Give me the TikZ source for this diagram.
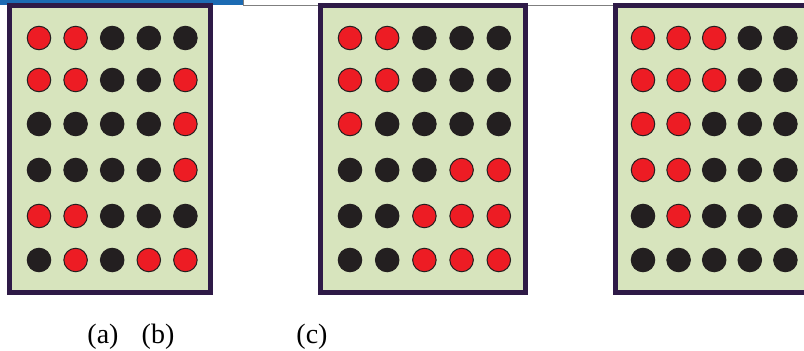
\documentclass[tikz,border=0pt]{standalone}
\usepackage{fontspec}
\setmainfont{Liberation Serif}
\definecolor{mPanel}{HTML}{D7E4BD}
\definecolor{mFrame}{HTML}{2E1A47}
\definecolor{mRed}{HTML}{ED1C24}
\definecolor{mDot}{HTML}{231F20}
\definecolor{mBar}{HTML}{1C6BB3}
\definecolor{mRule}{HTML}{7F7F7F}
\usetikzlibrary{positioning}

\begin{document}
\begin{tikzpicture}[x=1pt, y=-1pt, font=\fontsize{28}{32}\selectfont,
  panel/.style={draw=mFrame, fill=mPanel, line width=4.6pt},
  dot/.style={circle, inner sep=0pt, minimum size=23.5pt, draw=mDot, line width=1pt},
  tag/.style={inner sep=0pt}]
\useasboundingbox (0,0) rectangle (804,351);
\clip (0,0) rectangle (804,351);
% header strip behind the panels
\draw[mRule, line width=1pt] (243,-2) -- (243,5.5) -- (810,5.5);
\fill[mBar] (0,0) rectangle (242.5,5);
% panels
\draw[panel] (9.3,5.3) rectangle (210.7,292.7);
\draw[panel] (320.3,5.3) rectangle (525.7,292.7);
\draw[panel] (615.3,5.3) rectangle (830,292.7);
% dots, 1 = red
\foreach \row/\y [count=\r] in {{1,1,0,0,0}/38,{1,1,0,0,1}/80,{0,0,0,0,1}/124,{0,0,0,0,1}/170,{1,1,0,0,0}/216,{0,1,0,1,1}/260}
  \foreach \v [count=\c] in \row {
    \ifnum\v=1 \def\dc{mRed}\else\def\dc{mDot}\fi
    \node[dot, fill=\dc] (a-\r-\c) at ({7+32+36.6*(\c-1)},\y) {};
  }
\foreach \row/\y [count=\r] in {{1,1,0,0,0}/38,{1,1,0,0,0}/80,{1,0,0,0,0}/124,{0,0,0,1,1}/170,{0,0,1,1,1}/216,{0,0,1,1,1}/260}
  \foreach \v [count=\c] in \row {
    \ifnum\v=1 \def\dc{mRed}\else\def\dc{mDot}\fi
    \node[dot, fill=\dc] (b-\r-\c) at ({318+32+37.2*(\c-1)},\y) {};
  }
\foreach \row/\y [count=\r] in {{1,1,1,0,0}/38,{1,1,1,0,0}/80,{1,1,0,0,0}/124,{1,1,0,0,0}/170,{0,1,0,0,0}/216,{0,0,0,0,0}/260}
  \foreach \v [count=\c] in \row {
    \ifnum\v=1 \def\dc{mRed}\else\def\dc{mDot}\fi
    \node[dot, fill=\dc] (c-\r-\c) at ({613+30+35.6*(\c-1)},\y) {};
  }
% captions
\node[tag] (la) at (103,337) {(a)};
\node[tag] (lb) at (158,337) {(b)};
\node[tag] (lc) at (312,337) {(c)};
\end{tikzpicture}
\end{document}
